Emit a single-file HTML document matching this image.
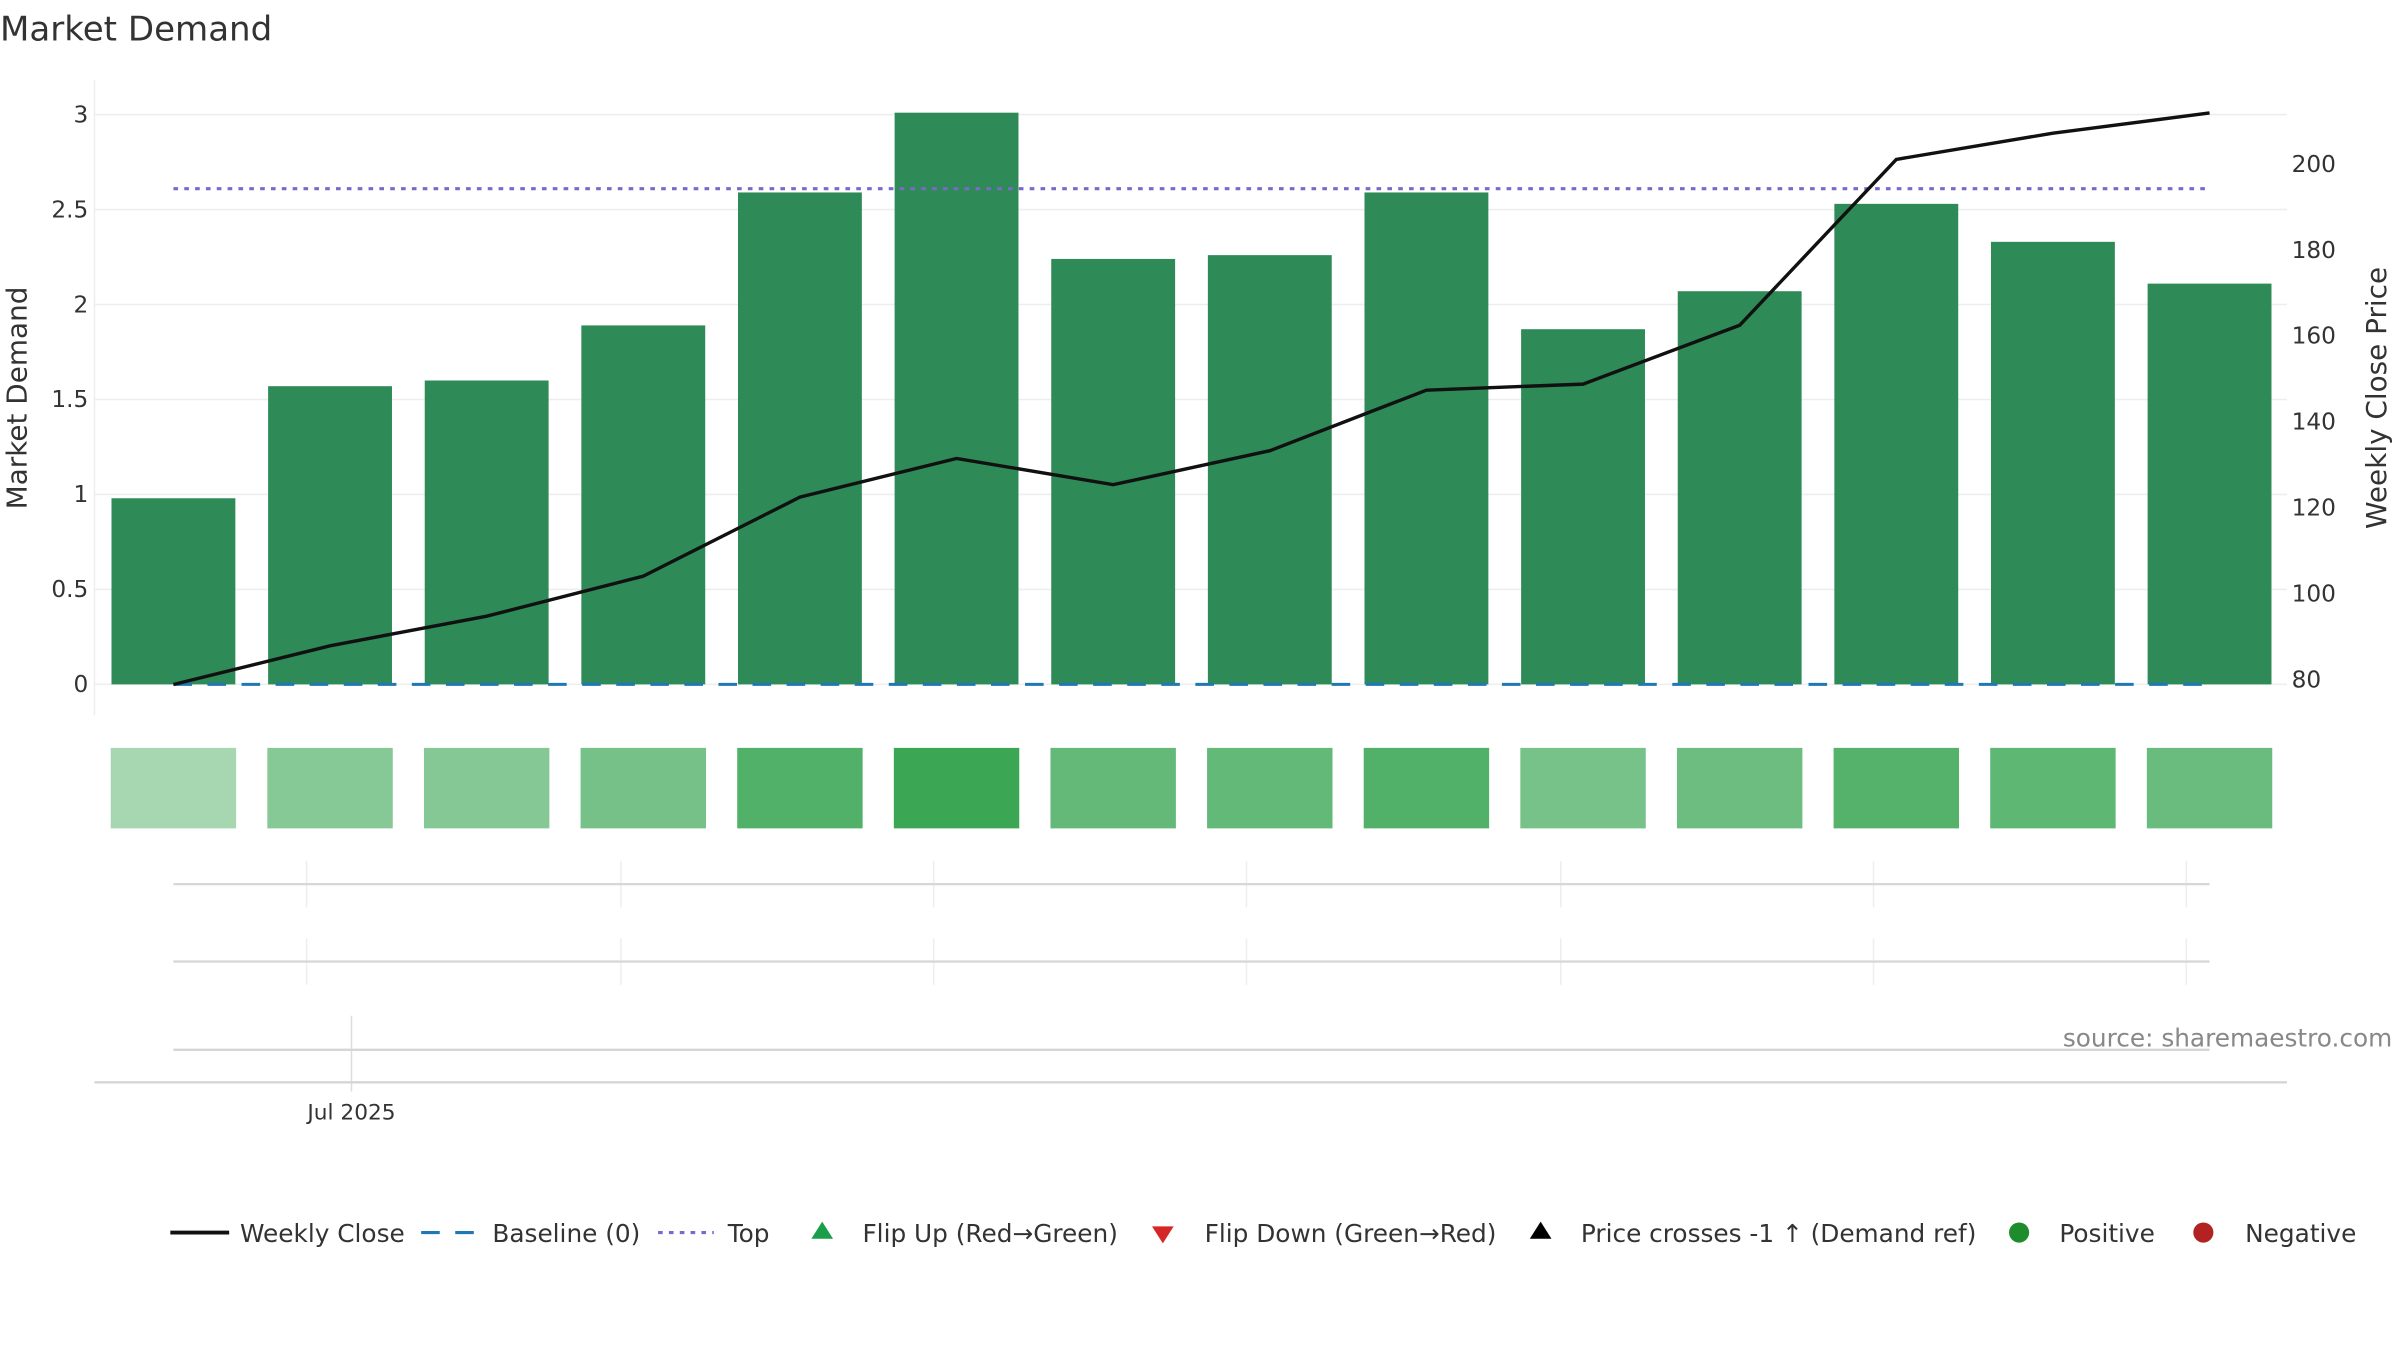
<!DOCTYPE html>
<html><head><meta charset="utf-8"><style>
html,body{margin:0;padding:0;background:#fff;}
svg{display:block;font-family:"DejaVu Sans","Liberation Sans",sans-serif;}
</style></head><body>
<svg id="chart" width="2400" height="1350" viewBox="0 0 1550 871.875" xmlns="http://www.w3.org/2000/svg">
<text x="0" y="26" font-size="22" fill="#333">Market Demand</text>
<g id="grid"></g>
<line x1="61" y1="52" x2="61" y2="462" stroke="#eee" stroke-width="1"/>
<g id="bars"></g>
<g id="heat"></g>
<g id="lines"></g>
<g id="yl" font-size="15" fill="#333" text-anchor="end"></g>
<g id="yr" font-size="15" fill="#333"></g>
<text transform="translate(17,257) rotate(-90)" text-anchor="middle" font-size="18" fill="#333">Market Demand</text>
<text transform="translate(1541,257) rotate(-90)" text-anchor="middle" font-size="18" fill="#333">Weekly Close Price</text>
<g id="sub"></g>
<text x="1545" y="676" text-anchor="end" font-size="16" fill="#888">source: sharemaestro.com</text>
<text x="227" y="723" text-anchor="middle" font-size="14" fill="#333">Jul 2025</text>
<g font-size="16" fill="#333">
 <g><line x1="110" y1="796" x2="148" y2="796" stroke="#111" stroke-width="2.5"/><text x="155" y="802">Weekly Close</text></g>
 <g><line x1="272" y1="796" x2="310" y2="796" stroke="#1f77b4" stroke-width="2" stroke-dasharray="12,10"/><text x="318" y="802">Baseline (0)</text></g>
 <g><line x1="425" y1="796" x2="461" y2="796" stroke="#7b68c8" stroke-width="2" stroke-dasharray="3,4"/><text x="470" y="802">Top</text></g>
 <g><polygon points="531,789 538,800 524,800" fill="#1a9e4a"/><text x="557" y="802">Flip Up (Red→Green)</text></g>
 <g><polygon points="744,792 758,792 751,803" fill="#d62728"/><text x="778" y="802">Flip Down (Green→Red)</text></g>
 <g><polygon points="995,789 1002,800 988,800" fill="#000"/><text x="1021" y="802">Price crosses -1 ↑ (Demand ref)</text></g>
 <g><circle cx="1304" cy="796" r="6.5" fill="#1e8c2c"/><text x="1330" y="802">Positive</text></g>
 <g><circle cx="1423" cy="796" r="6.5" fill="#b22222"/><text x="1450" y="802">Negative</text></g>
</g>
</svg>
<script>
const weeks = ["W1","W2","W3","W4","W5","W6","W7","W8","W9","W10","W11","W12","W13","W14"];
const demand = [0.98,1.57,1.60,1.89,2.59,3.01,2.24,2.26,2.59,1.87,2.07,2.53,2.33,2.11];
const price = [78.9,87.9,94.8,104.1,122.5,131.5,125.4,133.3,147.4,148.8,162.5,201.1,207.2,211.9];
const topLevel = [2.61];
const baseline = [0];
const leftTicks = [0,0.5,1,1.5,2,2.5,3];
const rightTicks = [80,100,120,140,160,180,200];
const NS="http://www.w3.org/2000/svg";
function mk(tag,attrs,parent){const e=document.createElementNS(NS,tag);for(const k in attrs)e.setAttribute(k,attrs[k]);parent.appendChild(e);return e;}
const x0=112, step=(1427-112)/(weeks.length-1), bw=80;
function xS(i){return x0+i*step;}
function yL(v){return 442-v*(442-74)/3;}
function yR(v){return 439-(v-80)*(439-106)/120;}
const grid=document.getElementById('grid');
leftTicks.forEach(t=>{const l=mk('line',{x1:61,x2:1477,y1:yL(t),y2:yL(t),stroke:'#eee','stroke-width':1},grid);

});
const yl=document.getElementById('yl');
leftTicks.forEach(t=>{const e=mk('text',{x:57,y:yL(t)+5},yl);e.textContent=String(t);

});
const yr=document.getElementById('yr');
rightTicks.forEach(t=>{const e=mk('text',{x:1480,y:yR(t)+5},yr);e.textContent=String(t);

});
const bars=document.getElementById('bars');
demand.forEach((v,i)=>{const r=mk('rect',{x:xS(i)-bw/2,y:yL(v),width:bw,height:yL(0)-yL(v),fill:'#2e8b57'},bars);

});
const mn=Math.min(...demand),mx=Math.max(...demand);
const c0=[166,215,177],c1=[59,167,85];
const heat=document.getElementById('heat');
demand.forEach((v,i)=>{const t=(v-mn)/(mx-mn||1);const c=c0.map((a,k)=>Math.round(a+(c1[k]-a)*t));
const r=mk('rect',{x:xS(i)-40.5,y:483,width:81,height:52,fill:'rgb('+c.join(',')+')'},heat);

});
const lines=document.getElementById('lines');
const tl=mk('line',{x1:xS(0),x2:xS(weeks.length-1),y1:yL(topLevel[0]),y2:yL(topLevel[0]),stroke:'#7b68c8','stroke-width':2,'stroke-dasharray':'3,4'},lines);


const bl=mk('line',{x1:xS(0),x2:xS(weeks.length-1),y1:yL(baseline[0]),y2:yL(baseline[0]),stroke:'#1f77b4','stroke-width':2,'stroke-dasharray':'12,10'},lines);


const pl=mk('polyline',{points:price.map((p,i)=>xS(i)+','+yR(p)).join(' '),fill:'none',stroke:'#111','stroke-width':2.2},lines);


const sub=document.getElementById('sub');
const vx=[198,401,603,805,1008,1210,1412];
[[571,556,586],[621,606,636]].forEach(([y,a,b])=>{
 vx.forEach(x=>{const v=mk('line',{x1:x,x2:x,y1:a,y2:b,stroke:'#eee','stroke-width':1},sub);
 
 });
 const h=mk('line',{x1:112,x2:1427,y1:y,y2:y,stroke:'#d5d8da','stroke-width':1.5},sub);
 
 });
const v3=mk('line',{x1:227,x2:227,y1:656,y2:705,stroke:'#ddd','stroke-width':1},sub);


const h3=mk('line',{x1:112,x2:1427,y1:678,y2:678,stroke:'#d5d5d5','stroke-width':1.5},sub);


const xa=mk('line',{x1:61,x2:1477,y1:699,y2:699,stroke:'#d5d5d5','stroke-width':1.5},sub);


</script>
</body></html>
